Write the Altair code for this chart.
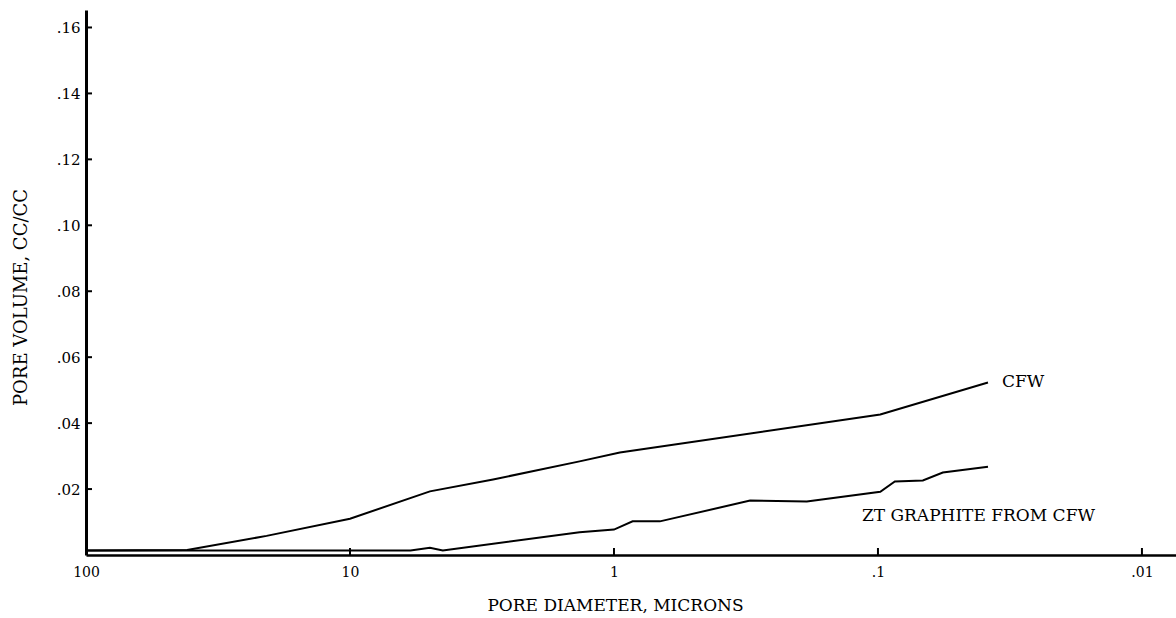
import altair as alt
import pandas as pd

# ---- data ----
cfw_diam = [100, 41.4, 20.7, 10, 4.98, 2.87, 1.35, 0.95, 0.098, 0.0383]
cfw_vol = [0.0014, 0.0015, 0.0058, 0.0110, 0.0193, 0.0229, 0.0284, 0.0311, 0.0426, 0.0523]

zt_diam = [100, 5.9, 4.98, 4.45, 1.35, 1.0, 0.85, 0.67, 0.305, 0.186, 0.098, 0.0863, 0.0676, 0.0568, 0.0383]
zt_vol = [0.0014, 0.0014, 0.0022, 0.0014, 0.0069, 0.0077, 0.0102, 0.0102, 0.0165, 0.0162, 0.0192, 0.0223, 0.0226, 0.0250, 0.0268]

x_ticks = [100, 10, 1, 0.1, 0.01]
y_ticks = [0.02, 0.04, 0.06, 0.08, 0.10, 0.12, 0.14, 0.16]

label_text = ["CFW", "ZT GRAPHITE FROM CFW"]
label_diam = [0.0339, 0.115]
label_vol = [0.0526, 0.0117]

FONT = "DejaVu Serif"

rows = []
for i, (d, v) in enumerate(zip(cfw_diam, cfw_vol)):
    rows.append({"series": "CFW", "idx": i, "d": d, "v": v})
for i, (d, v) in enumerate(zip(zt_diam, zt_vol)):
    rows.append({"series": "ZT", "idx": i, "d": d, "v": v})
df = pd.DataFrame(rows)

xscale = alt.Scale(type="log", domain=[0.00743, 100], reverse=True, nice=False)
yscale = alt.Scale(domain=[0, 0.1653], nice=False, zero=False)

xaxis = alt.Axis(
    values=x_ticks,
    labelExpr="datum.value >= 1 ? format(datum.value, 'd') : replace(format(datum.value, '.2~f'), '0.', '.')",
    ticks=False, grid=False, domainColor="black", domainWidth=2.5,
    labelFont=FONT, labelFontSize=14, labelColor="black", labelPadding=10,
    labelFlush=False, labelOverlap=False,
    title="PORE DIAMETER, MICRONS", titleFont=FONT, titleFontSize=17,
    titleFontWeight="normal", titleColor="black",
    titleX=529, titleY=50, titleAlign="center", titleBaseline="middle")
yaxis = alt.Axis(
    values=y_ticks,
    labelExpr="replace(format(datum.value, '.2f'), '0.', '.')",
    ticks=False, grid=False, domainColor="black", domainWidth=3,
    labelFont=FONT, labelFontSize=15, labelColor="black", labelPadding=6,
    title="PORE VOLUME, CC/CC", titleFont=FONT, titleFontSize=18,
    titleFontWeight="normal", titleColor="black",
    titleX=-65, titleY=287, titleAngle=270, titleAlign="center",
    titleBaseline="middle")

X = alt.X("d:Q", scale=xscale, axis=xaxis)
Y = alt.Y("v:Q", scale=yscale, axis=yaxis)

lines = alt.Chart(df).mark_line(color="black", strokeWidth=2).encode(
    x=X, y=Y, detail="series:N", order="idx:Q",
)

ytick_df = pd.DataFrame({"v": y_ticks})
yticks = alt.Chart(ytick_df).mark_rule(color="black", strokeWidth=2).encode(
    y=Y, x=alt.value(0), x2=alt.value(6),
)

xtick_df = pd.DataFrame({"d": x_ticks[1:]})
xticks = alt.Chart(xtick_df).mark_rule(color="black", strokeWidth=2).encode(
    x=X, y=alt.value(545), y2=alt.value(538),
)

lab_df = pd.DataFrame({"t": label_text, "d": label_diam, "v": label_vol})
labels = alt.Chart(lab_df).mark_text(
    align="left", baseline="middle", font=FONT, fontSize=17, color="black"
).encode(x=X, y=Y, text="t:N")

chart = alt.layer(lines, yticks, xticks, labels).properties(
    width=1090, height=545,
    padding={"left": 86, "top": 10, "right": 0, "bottom": 63},
    autosize=alt.AutoSizeParams(type="none"),
    background="white",
).configure_view(stroke=None)

chart.save("out.html", embed_options={"renderer": "svg", "actions": False})
